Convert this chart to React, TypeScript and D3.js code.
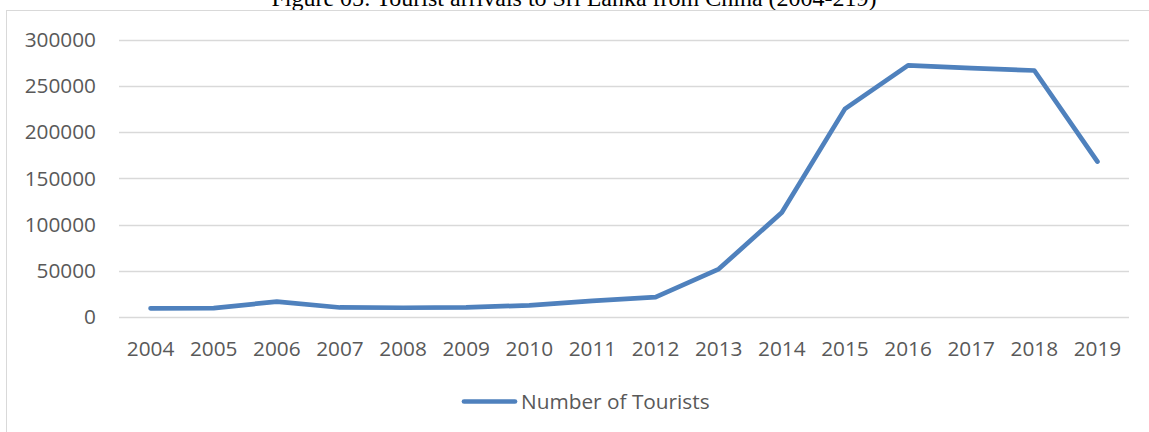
import React from "react";
import * as d3 from "d3";

const years = ["2004","2005","2006","2007","2008","2009","2010","2011","2012","2013","2014","2015","2016","2017","2018","2019"];
const tourists = [9400, 9600, 16600, 10300, 10000, 10400, 12600, 17500, 21500, 51800, 113000, 225000, 272000, 269000, 266500, 168000];
const yTicks = [0, 50000, 100000, 150000, 200000, 250000, 300000];
const seriesName = "Number of Tourists";
const title = "Figure 05: Tourist arrivals to Sri Lanka from China (2004-219)";

export default function App() {
  const W = 1149, H = 432;
  const left = 119, right = 1129, top = 39.5, bottom = 317;
  const x = d3.scaleBand<string>().domain(years).range([left, right]);
  const y = d3.scaleLinear().domain([0, 300000]).range([bottom, top]);
  const line = d3.line<number>()
    .x((_, i) => (x(years[i]) as number) + x.bandwidth() / 2)
    .y((d) => y(d));
  const font = "'Open Sans', Lato, sans-serif";
  const fs = 20.8;
  const textColor = "#595959";
  const blue = "#4f81bd";
  return (
    <svg width={W} height={H} style={{ position: "absolute", left: 0, top: 0, background: "#fff" }}>
      <rect x={0} y={0} width={W} height={H} fill="#fff" />
      <text x={574} y={6} textAnchor="middle" fontFamily="'Liberation Serif', 'Times New Roman', serif" fontSize={24} fill="#000">{title}</text>
      <rect x={6.5} y={10.5} width={W + 20} height={H + 20} fill="none" stroke="#d9d9d9" strokeWidth={1} />
      {yTicks.map((t) => (
        <g key={t}>
          <line x1={left} x2={right} y1={Math.round(y(t)) + 0.5} y2={Math.round(y(t)) + 0.5} stroke="#d9d9d9" strokeWidth={1.3} />
          <text x={96} y={y(t)} dy="0.35em" textAnchor="end" fontFamily={font} fontSize={fs} fill={textColor}>{t}</text>
        </g>
      ))}
      {years.map((yr) => (
        <text key={yr} x={(x(yr) as number) + x.bandwidth() / 2} y={355.5} textAnchor="middle" fontFamily={font} fontSize={fs} fill={textColor}>{yr}</text>
      ))}
      <path d={line(tourists) || ""} fill="none" stroke={blue} strokeWidth={4.7} strokeLinejoin="round" strokeLinecap="round" />
      <line x1={464} x2={515} y1={401.5} y2={401.5} stroke={blue} strokeWidth={4.7} strokeLinecap="round" />
      <text x={521} y={401.5} dy="0.35em" fontFamily={font} fontSize={fs} fill={textColor}>{seriesName}</text>
    </svg>
  );
}
